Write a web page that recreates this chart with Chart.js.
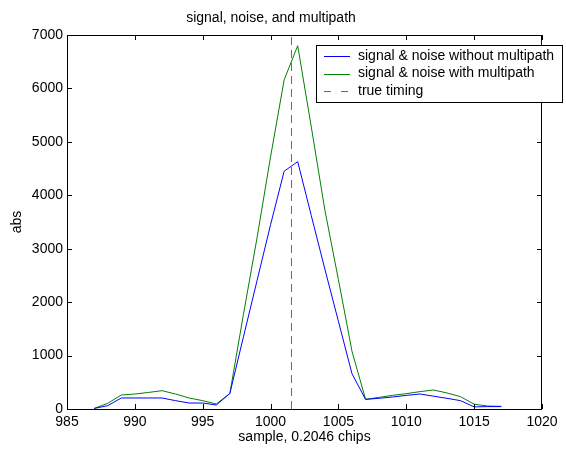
<!DOCTYPE html>
<html>
<head>
<meta charset="utf-8">
<script src="https://cdn.jsdelivr.net/npm/chart.js@4/dist/chart.umd.min.js"></script>
<style>
  html, body { margin: 0; padding: 0; background: #fff; }
  #wrap { width: 566px; height: 453px; }
</style>
</head>
<body>
<div id="wrap"><canvas id="sigChart" width="566" height="453"></canvas></div>
<script>
// --- data ---
const samples = [987, 988, 989, 990, 991, 992, 993, 994, 995, 996, 997, 998, 999, 1000, 1001, 1002,
                 1003, 1004, 1005, 1006, 1007, 1008, 1009, 1010, 1011, 1012, 1013, 1014, 1015, 1016, 1017];
const noMultipath = [10, 62, 206, 206, 206, 206, 156, 112, 112, 75, 290, 1350, 2400, 3450, 4450, 4630,
                     3620, 2620, 1640, 660, 180, 200, 225, 255, 281, 240, 200, 156, 40, 45, 45];
const withMultipath = [10, 106, 262, 280, 310, 343, 281, 206, 156, 94, 290, 1770, 3200, 4720, 6160, 6800,
                       5280, 3725, 2420, 1080, 181, 218, 256, 287, 325, 356, 300, 231, 90, 55, 50];
const trueTiming = 1001.54;
const seriesLabels = ['signal & noise without multipath', 'signal & noise with multipath', 'true timing'];
const xTicks = { min: 985, max: 1020, step: 5 };
const yTicks = { min: 0, max: 7000, step: 1000 };

const FONT = '"Liberation Sans", Arial, Helvetica, sans-serif';

const toPoints = (xs, ys) => xs.map((x, i) => ({ x: x, y: ys[i] }));

// MATLAB-style box with inward ticks + legend
const matlabFrame = {
    id: 'matlabFrame',
    afterDraw(chart) {
        const { ctx, chartArea: a, scales } = chart;
        ctx.save();
        ctx.strokeStyle = '#000';
        ctx.lineWidth = 1;
        ctx.strokeRect(a.left + 0.5, a.top + 0.5, a.right - a.left - 1, a.bottom - a.top);
        const tl = 5;
        ctx.beginPath();
        scales.x.ticks.forEach(t => {
            const px = Math.round(scales.x.getPixelForValue(t.value)) + 0.5;
            ctx.moveTo(px, a.bottom); ctx.lineTo(px, a.bottom - tl);
            ctx.moveTo(px, a.top); ctx.lineTo(px, a.top + tl);
        });
        scales.y.ticks.forEach(t => {
            const py = Math.round(scales.y.getPixelForValue(t.value)) + 0.5;
            ctx.moveTo(a.left, py); ctx.lineTo(a.left + tl, py);
            ctx.moveTo(a.right, py); ctx.lineTo(a.right - tl, py);
        });
        ctx.stroke();

        // legend box
        const box = { x: 316, y: 45, w: 247, h: 57 };
        ctx.fillStyle = '#fff';
        ctx.fillRect(box.x, box.y, box.w, box.h);
        ctx.strokeRect(box.x + 0.5, box.y + 0.5, box.w - 1, box.h);
        ctx.font = '14px ' + FONT;
        ctx.textBaseline = 'middle';
        ctx.textAlign = 'left';
        const rows = [56, 73.5, 91];
        chart.data.datasets.forEach((ds, i) => {
            const y = Math.round(rows[i]) + 0.5;
            ctx.strokeStyle = ds.borderColor;
            ctx.setLineDash(ds.borderDash ? [7, 10] : []);
            ctx.beginPath();
            ctx.moveTo(324, y); ctx.lineTo(350, y);
            ctx.stroke();
            ctx.setLineDash([]);
            ctx.fillStyle = '#000';
            ctx.fillText(ds.label, 358, rows[i]);
        });
        ctx.restore();
    }
};

new Chart(document.getElementById('sigChart'), {
    type: 'line',
    data: {
        datasets: [
            {
                label: seriesLabels[0],
                data: toPoints(samples, noMultipath),
                borderColor: '#0000ff',
                borderWidth: 1,
                pointRadius: 0,
                tension: 0
            },
            {
                label: seriesLabels[1],
                data: toPoints(samples, withMultipath),
                borderColor: '#008000',
                borderWidth: 1,
                pointRadius: 0,
                tension: 0
            },
            {
                label: seriesLabels[2],
                data: [{ x: trueTiming, y: yTicks.min }, { x: trueTiming, y: yTicks.max }],
                borderColor: '#ff00ff',
                borderWidth: 1,
                borderDash: [8, 5],
                pointRadius: 0
            }
        ]
    },
    options: {
        responsive: false,
        animation: false,
        devicePixelRatio: 1,
        layout: { padding: { left: 0, right: 24, top: 0, bottom: 0 } },
        plugins: {
            legend: { display: false },
            tooltip: { enabled: false },
            title: {
                display: true,
                text: 'signal, noise, and multipath',
                color: '#000',
                font: { family: FONT, size: 14, weight: 'normal', lineHeight: 1.2 },
                padding: { top: 10, bottom: 8.2 }
            }
        },
        scales: {
            x: {
                type: 'linear',
                min: xTicks.min,
                max: xTicks.max,
                grid: { display: false, drawTicks: false },
                border: { display: false },
                ticks: {
                    stepSize: xTicks.step,
                    color: '#000',
                    padding: 5,
                    maxRotation: 0,
                    font: { family: FONT, size: 14 },
                    callback: v => String(v)
                },
                title: {
                    display: true,
                    text: 'sample, 0.2046 chips',
                    color: '#000',
                    font: { family: FONT, size: 14, lineHeight: 1.2 },
                    padding: { top: 0, bottom: 7.6 }
                },
                afterFit: s => { s.height = 44; }
            },
            y: {
                type: 'linear',
                min: yTicks.min,
                max: yTicks.max,
                grid: { display: false, drawTicks: false },
                border: { display: false },
                ticks: {
                    stepSize: yTicks.step,
                    color: '#000',
                    padding: 4,
                    font: { family: FONT, size: 14 },
                    callback: v => String(v)
                },
                title: {
                    display: true,
                    text: 'abs',
                    color: '#000',
                    font: { family: FONT, size: 14, lineHeight: 1.2 },
                    padding: { top: 8.6, bottom: 0 }
                },
                afterFit: s => { s.width = 67; }
            }
        }
    },
    plugins: [matlabFrame]
});
</script>
</body>
</html>
